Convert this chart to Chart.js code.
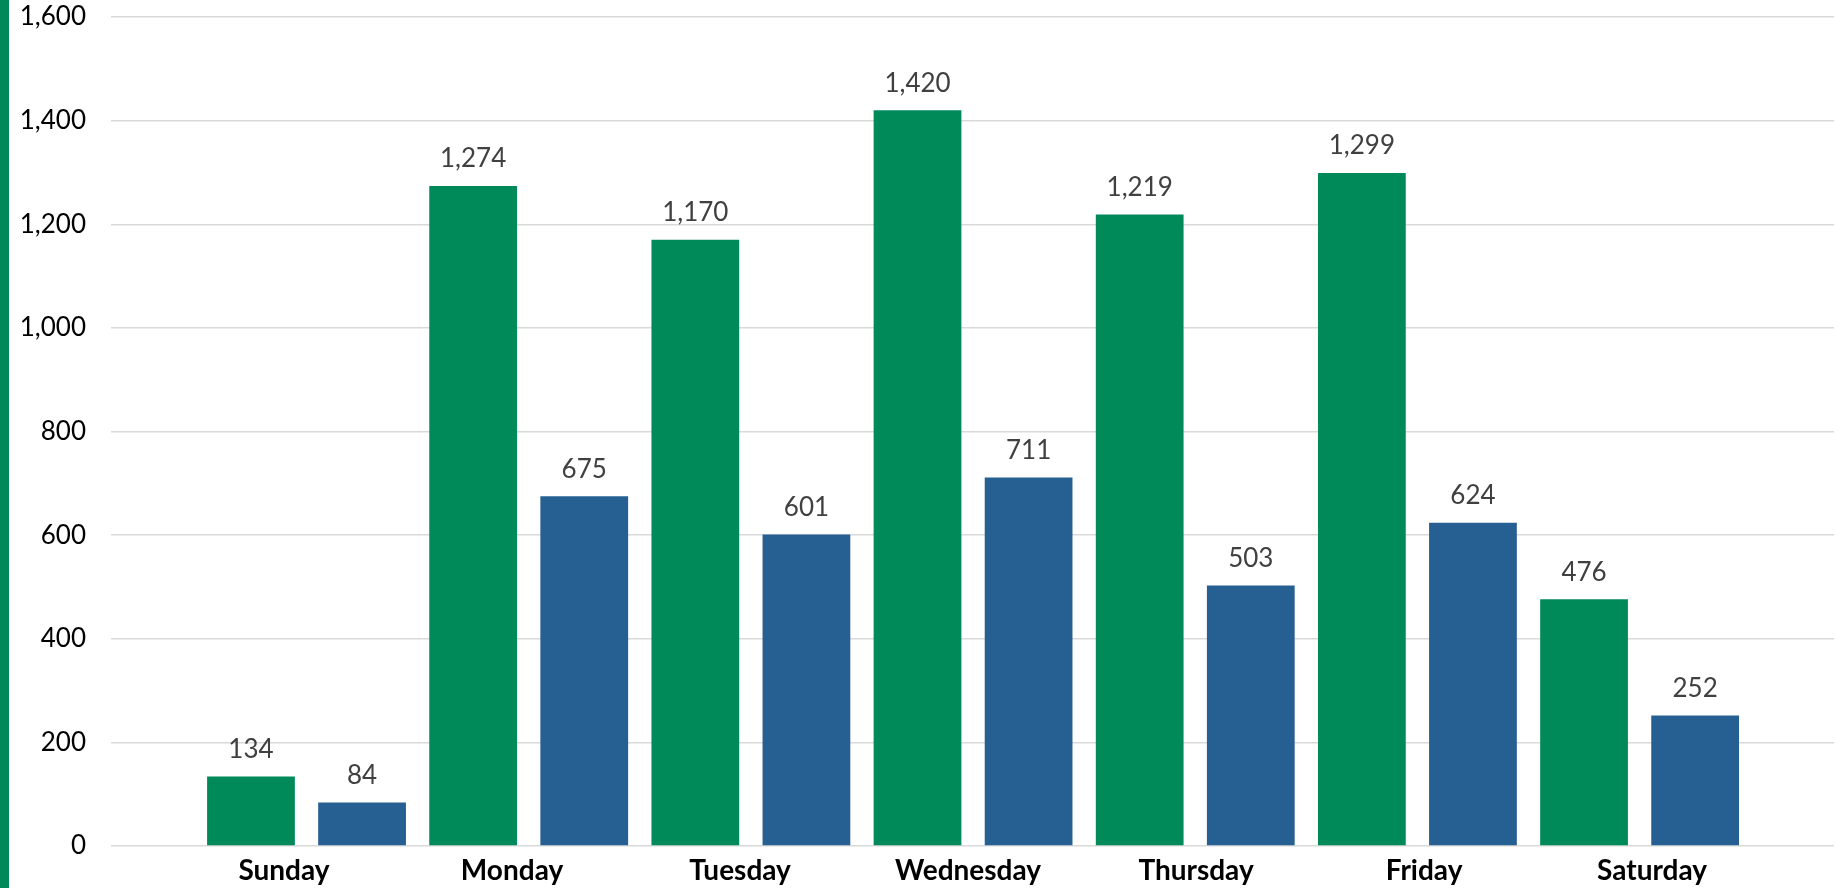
<!DOCTYPE html>
<html>
<head>
<meta charset="utf-8">
<script src="https://cdn.jsdelivr.net/npm/chart.js@4"></script>
<style>
  html, body { margin: 0; padding: 0; background: #fff; }
  #wrap { width: 1845px; height: 888px; position: relative; }
</style>
</head>
<body>
<div id="wrap"><canvas id="grafico"></canvas></div>
<script>
// dados
const dias = ['Sunday', 'Monday', 'Tuesday', 'Wednesday', 'Thursday', 'Friday', 'Saturday'];
const serieVerde = [134, 1274, 1170, 1420, 1219, 1299, 476];
const serieAzul = [84, 675, 601, 711, 503, 624, 252];
const ticksY = [0, 200, 400, 600, 800, 1000, 1200, 1400, 1600];

const fonte = 'Lato, "Open Sans", sans-serif';

function formatarNumero(v) {
  return new Intl.NumberFormat('en-US').format(v);
}

// faixa verde na borda esquerda
const faixaEsquerda = {
  id: 'faixaEsquerda',
  beforeDraw(chart) {
    const c = chart.ctx;
    c.save();
    c.fillStyle = '#008A5A';
    c.fillRect(0, 0, 9, chart.height);
    c.restore();
  }
};

// rotulos de valor acima das barras
const rotulosValor = {
  id: 'rotulosValor',
  afterDatasetsDraw(chart) {
    const c = chart.ctx;
    c.save();
    c.font = '26px ' + fonte;
    c.fillStyle = '#404040';
    c.textAlign = 'center';
    c.textBaseline = 'middle';
    chart.data.datasets.forEach((ds, i) => {
      chart.getDatasetMeta(i).data.forEach((el, j) => {
        c.fillText(formatarNumero(ds.data[j].y), el.x, el.y - 27);
      });
    });
    c.restore();
  }
};

new Chart(document.getElementById('grafico'), {
  type: 'bar',
  data: {
    datasets: [
      {
        label: 'A',
        data: serieVerde.map((v, i) => ({ x: i, y: v })),
        backgroundColor: '#008A5A',
        categoryPercentage: 1,
        barPercentage: 0.79
      },
      {
        label: 'B',
        data: serieAzul.map((v, i) => ({ x: i, y: v })),
        backgroundColor: '#265F92',
        categoryPercentage: 1,
        barPercentage: 0.79
      }
    ]
  },
  options: {
    responsive: true,
    maintainAspectRatio: false,
    animation: false,
    layout: { padding: { top: 17, right: 11, left: 0, bottom: 0 } },
    plugins: {
      legend: { display: false },
      tooltip: { enabled: false }
    },
    scales: {
      x: {
        type: 'linear',
        display: false,
        offset: false,
        min: -0.88,
        max: 6.875,
        afterBuildTicks: axis => {
          axis.ticks = dias.map((_, i) => ({ value: i }));
        }
      },
      x2: {
        type: 'linear',
        position: 'bottom',
        offset: false,
        min: -0.7588,
        max: 6.798,
        grid: { display: false, drawTicks: false },
        border: { display: false },
        afterBuildTicks: axis => {
          axis.ticks = dias.map((_, i) => ({ value: i }));
        },
        afterFit: axis => { axis.height = 42; },
        ticks: {
          autoSkip: false,
          maxRotation: 0,
          padding: 8,
          color: '#000',
          font: { family: fonte, size: 28, weight: 'bold' },
          callback: v => dias[v]
        }
      },
      y: {
        min: 0,
        max: 1600,
        afterBuildTicks: axis => {
          axis.ticks = ticksY.map(v => ({ value: v }));
        },
        afterFit: axis => { axis.width = 111; },
        grid: {
          color: '#D9D9D9',
          lineWidth: 1.5,
          drawTicks: true,
          tickLength: 25,
          tickColor: 'rgba(0,0,0,0)'
        },
        border: { display: false },
        ticks: {
          padding: 0,
          color: '#000',
          font: { family: fonte, size: 26 },
          callback: v => formatarNumero(v)
        }
      }
    }
  },
  plugins: [faixaEsquerda, rotulosValor]
});
</script>
</body>
</html>
